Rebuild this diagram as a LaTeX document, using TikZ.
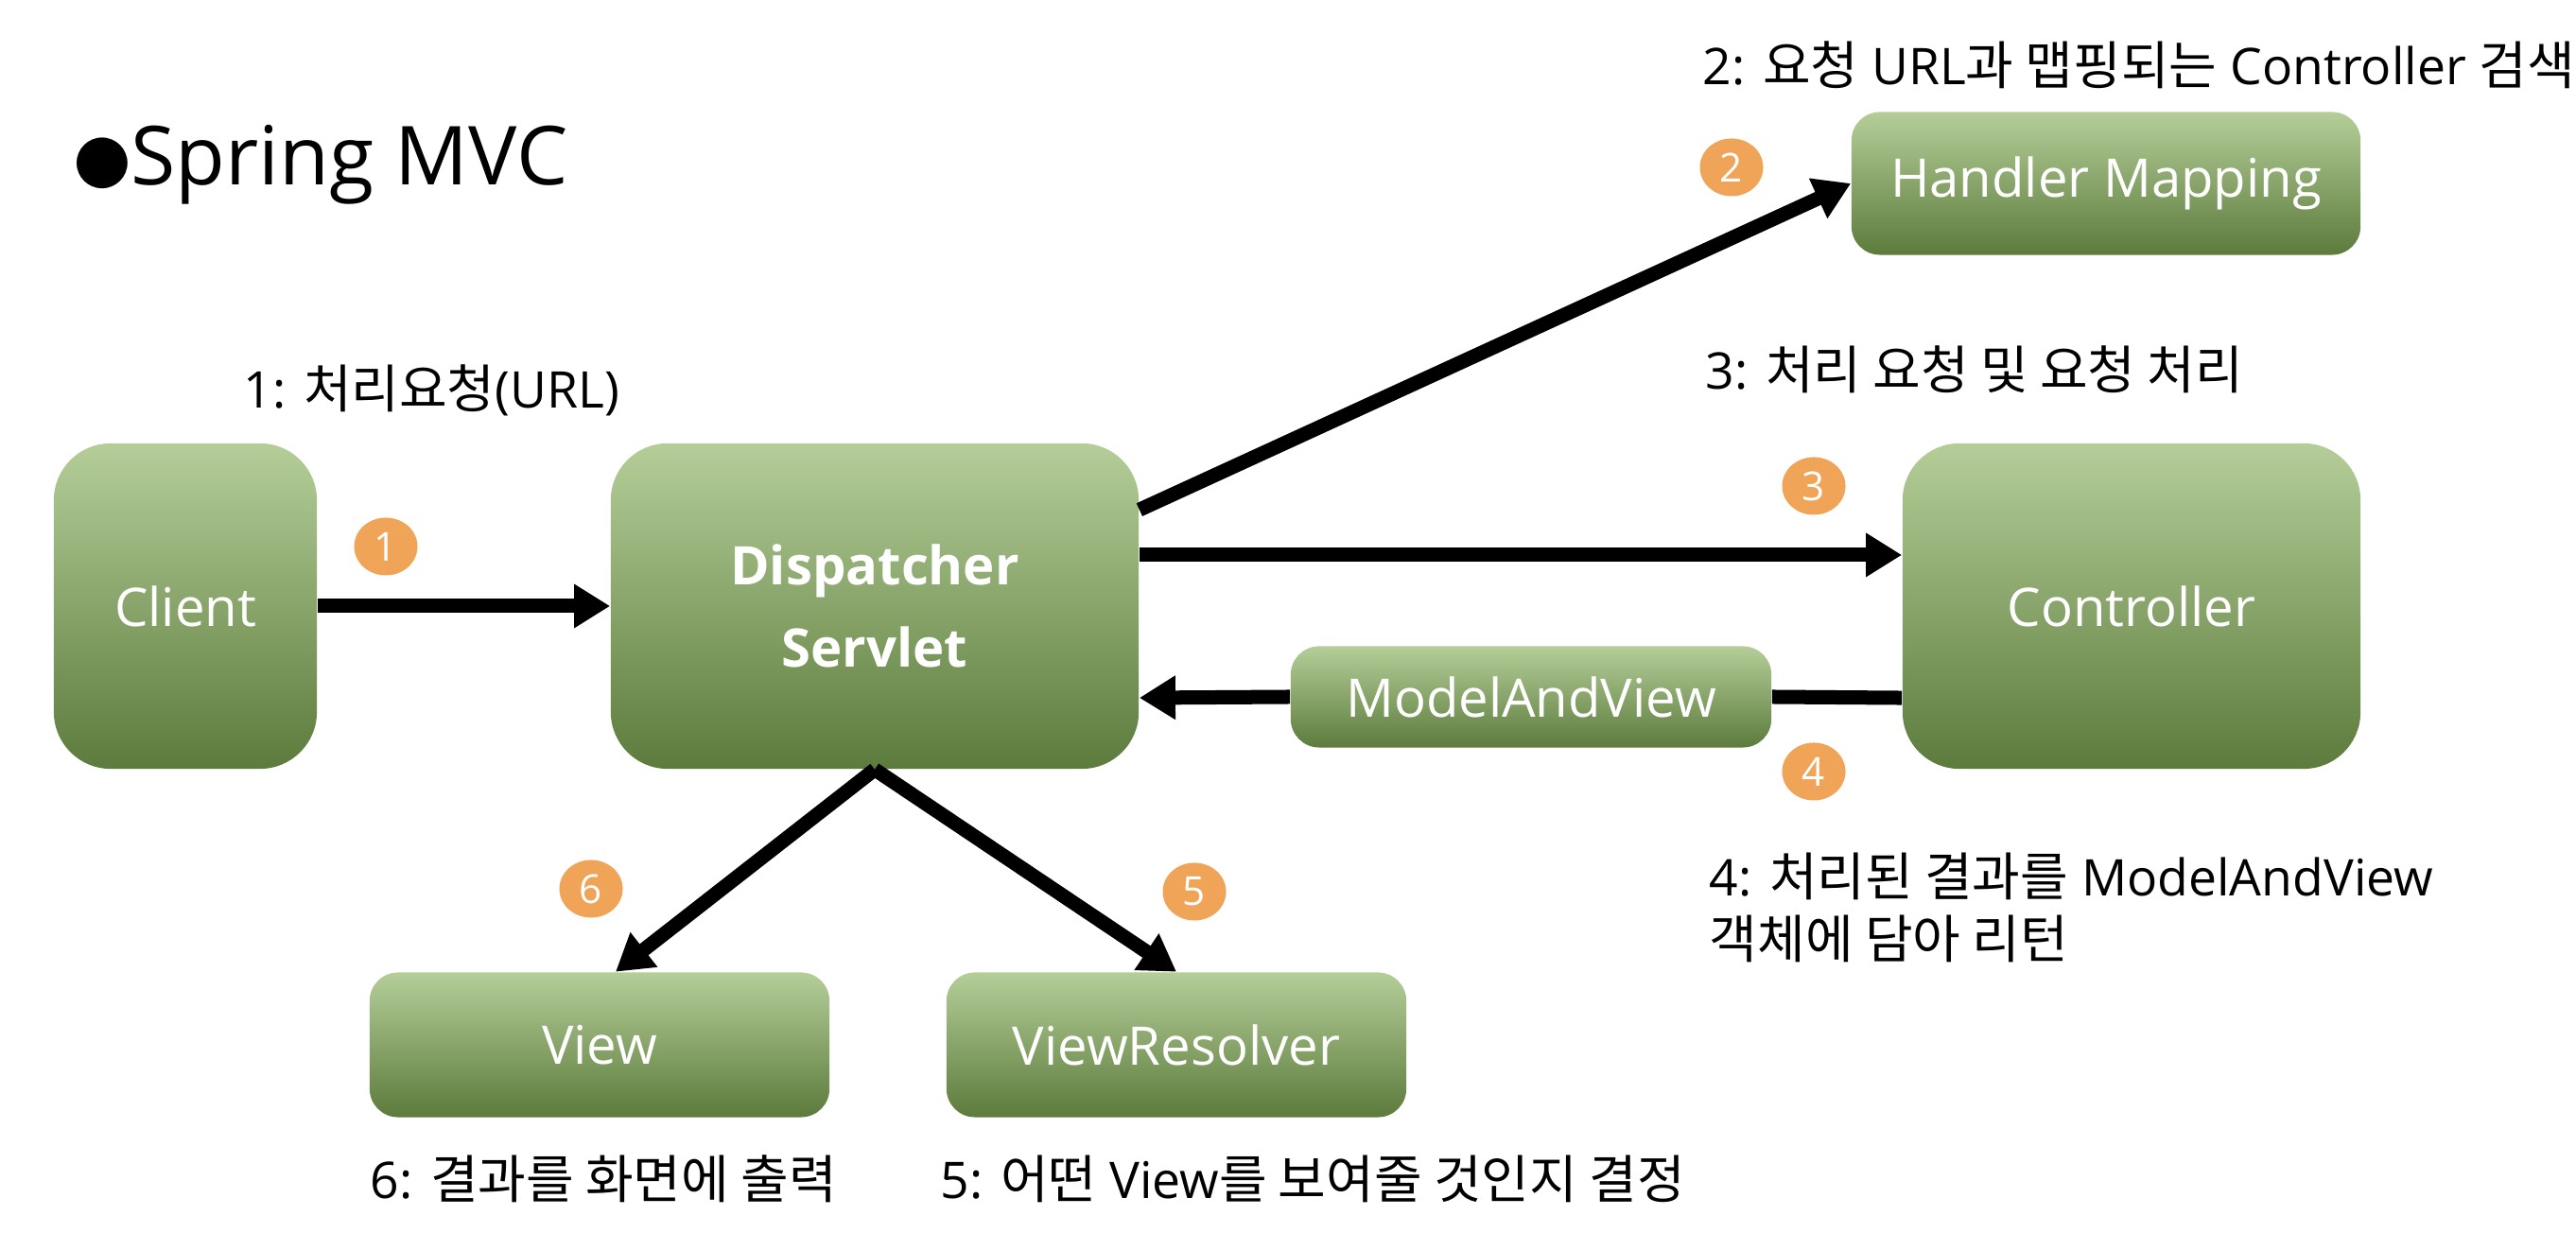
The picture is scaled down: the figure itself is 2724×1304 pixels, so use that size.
\documentclass[tikz,border=0pt]{standalone}
\usepackage{fontspec}
\setmainfont{Open Sans}
\newfontfamily\kofont[Scale=1.03]{Noto Sans CJK KR}
\usetikzlibrary{arrows.meta,shapes.geometric}

\definecolor{boxtop}{RGB}{181,206,153}
\definecolor{boxmid}{RGB}{138,176,95}
\definecolor{boxbot}{RGB}{92,123,60}
\definecolor{stepfill}{RGB}{240,164,88}

\begin{document}
\begin{tikzpicture}[x=0.01cm, y=0.01cm, >={Triangle[length=0.38cm,width=0.44cm]},
    bigbox/.style={rounded corners=0.6cm, top color=boxtop, middle color=boxmid,
        bottom color=boxbot, text=white, font=\fontsize{16}{24.5}\selectfont,
        align=center, inner sep=0pt},
    smallbox/.style={bigbox, rounded corners=0.3cm},
    stepnum/.style={ellipse, fill=stepfill, text=white, inner sep=0pt,
        minimum width=0.67cm, minimum height=0.61cm, font=\fontsize{12}{14}\selectfont},
    note/.style={anchor=west, inner sep=0pt, align=left, font=\fontsize{15.2}{19}\selectfont},
    flow/.style={->, line width=0.15cm}]
        % --- CANVAS ---
        \useasboundingbox (0,0) rectangle (2724,1304);

        % --- TITLE ---
        \node[anchor=west, inner sep=0pt, font=\fontsize{24.5}{28}\selectfont] (title) at (78,1130)
            {{\kofont\fontsize{16.5}{20}\selectfont ●}Spring MVC};

        % --- BOXES ---
        \node[bigbox, minimum width=2.78cm, minimum height=3.44cm] (client) at (196,663) {Client};
        \node[bigbox, minimum width=5.58cm, minimum height=3.44cm] (disp) at (925,663) {\bfseries Dispatcher\\\bfseries Servlet};
        \node[bigbox, minimum width=4.84cm, minimum height=3.44cm] (ctrl) at (2254,663) {Controller};
        \node[smallbox, minimum width=5.38cm, minimum height=1.51cm] (hmap) at (2227,1110) {Handler Mapping};
        \node[smallbox, minimum width=5.08cm, minimum height=1.07cm] (mav) at (1619,567) {ModelAndView};
        \node[smallbox, minimum width=4.86cm, minimum height=1.53cm] (view) at (634,199) {View};
        \node[smallbox, minimum width=4.86cm, minimum height=1.53cm] (vres) at (1244,199) {ViewResolver};

        % --- FLOW ---
        \draw[flow] (client) -- (disp);
        \draw[flow] (disp.20) -- (hmap.west);
        \draw[flow] ([yshift=0.54cm]disp.east) -- ([yshift=0.54cm]ctrl.west);
        \draw[line width=0.15cm] ([yshift=-0.97cm]ctrl.west) -- (mav.east);
        \draw[flow] (mav.west) -- ([yshift=-0.97cm]disp.east);
        \draw[flow] (disp.south) -- ([xshift=0.17cm]view.north);
        \draw[flow] (disp.south) -- (vres.north);

        % --- STEP NUMBERS ---
        \node[stepnum] (s1) at (408,726) {1};
        \node[stepnum] (s2) at (1831,1127) {2};
        \node[stepnum] (s3) at (1918,790) {3};
        \node[stepnum] (s4) at (1918,488) {4};
        \node[stepnum] (s5) at (1263,361) {5};
        \node[stepnum] (s6) at (625,364) {6};

        % --- NOTES ---
        \node[note] (n1) at (257,891) {1: {\kofont 처리요청}(URL)};
        \node[note] (n2) at (1800,1235) {2: {\kofont 요청} URL{\kofont 과 맵핑되는} Controller {\kofont 검색}};
        \node[note] (n3) at (1803,913) {3: {\kofont 처리 요청 및 요청 처리}};
        \node[note] (n4) at (1807,344) {4: {\kofont 처리된 결과를} ModelAndView\\{\kofont 객체에 담아 리턴}};
        \node[note] (n6) at (391,57) {6: {\kofont 결과를 화면에 출력}};
        \node[note] (n5) at (994,57) {5: {\kofont 어떤} View{\kofont 를 보여줄 것인지 결정}};
    \end{tikzpicture}
\end{document}
